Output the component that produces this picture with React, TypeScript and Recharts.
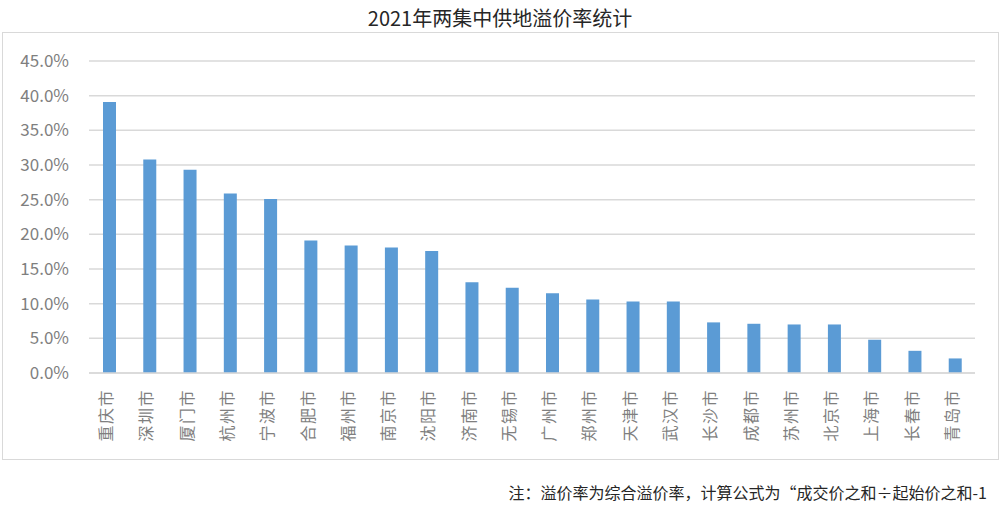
import { BarChart, Bar, XAxis, YAxis, CartesianGrid } from "recharts"

const cities = [
  "重庆市", "深圳市", "厦门市", "杭州市", "宁波市", "合肥市", "福州市", "南京市",
  "沈阳市", "济南市", "无锡市", "广州市", "郑州市", "天津市", "武汉市", "长沙市",
  "成都市", "苏州市", "北京市", "上海市", "长春市", "青岛市",
]

// 溢价率, %
const premiumRates = [
  39.1, 30.8, 29.3, 25.9, 25.1, 19.1, 18.4, 18.1, 17.6, 13.1, 12.3, 11.5,
  10.6, 10.3, 10.3, 7.3, 7.1, 7.0, 7.0, 4.8, 3.2, 2.1,
]

const yTicks = [0, 5, 10, 15, 20, 25, 30, 35, 40, 45]

const title = "2021年两集中供地溢价率统计"
const note = "注：溢价率为综合溢价率，计算公式为“成交价之和÷起始价之和-1"

const chartData = cities.map((city, i) => ({ city, rate: premiumRates[i] }))

const FONT = '"Noto Sans CJK SC", "Noto Sans", sans-serif'
const GRID = "#d9d9d9"
const LABEL = "#7f7f7f"

function CityTick(props: any) {
  const { x, y, payload } = props
  return (
    <text
      x={0}
      y={0}
      transform={`translate(${x - 4},${y + 14}) rotate(-90)`}
      textAnchor="end"
      dominantBaseline="central"
      fill={LABEL}
      fontSize={16}
      letterSpacing={1.5}
      fontFamily={FONT}
    >
      {payload.value}
    </text>
  )
}

export default function App() {
  return (
    <div
      style={{
        position: "absolute",
        left: 0,
        top: 0,
        width: 1000,
        height: 516,
        background: "#fff",
        fontFamily: FONT,
      }}
    >
      <div
        style={{
          position: "absolute",
          left: 0,
          top: 4,
          width: 1000,
          textAlign: "center",
          fontSize: 20,
          color: "#262626",
          lineHeight: "28px",
        }}
      >
        {title}
      </div>
      <div
        style={{
          position: "absolute",
          left: 2,
          top: 32,
          width: 995,
          height: 426,
          border: `1.5px solid ${GRID}`,
        }}
      />
      <div style={{ position: "absolute", left: 0, top: 0 }}>
        <BarChart
          width={1000}
          height={516}
          data={chartData}
          margin={{ top: 61, right: 25, left: 19, bottom: 63 }}
          barCategoryGap={0}
        >
          <CartesianGrid vertical={false} stroke={GRID} strokeWidth={1.5} />
          <XAxis
            dataKey="city"
            interval={0}
            height={80}
            tickLine={false}
            tickSize={0}
            axisLine={{ stroke: GRID, strokeWidth: 1.5 }}
            tick={<CityTick />}
          />
          <YAxis
            width={70}
            domain={[0, 45]}
            ticks={yTicks}
            tickFormatter={(v) => `${Number(v).toFixed(1)}%`}
            tickLine={false}
            tickSize={0}
            tickMargin={20}
            axisLine={false}
            tick={{ fill: LABEL, fontSize: 17, fontFamily: FONT }}
          />
          <Bar dataKey="rate" fill="#5b9bd5" barSize={13} isAnimationActive={false} />
        </BarChart>
      </div>
      <div
        style={{
          position: "absolute",
          right: 13,
          top: 480,
          fontSize: 16,
          color: "#262626",
          lineHeight: "24px",
          whiteSpace: "nowrap",
        }}
      >
        {note}
      </div>
    </div>
  )
}
